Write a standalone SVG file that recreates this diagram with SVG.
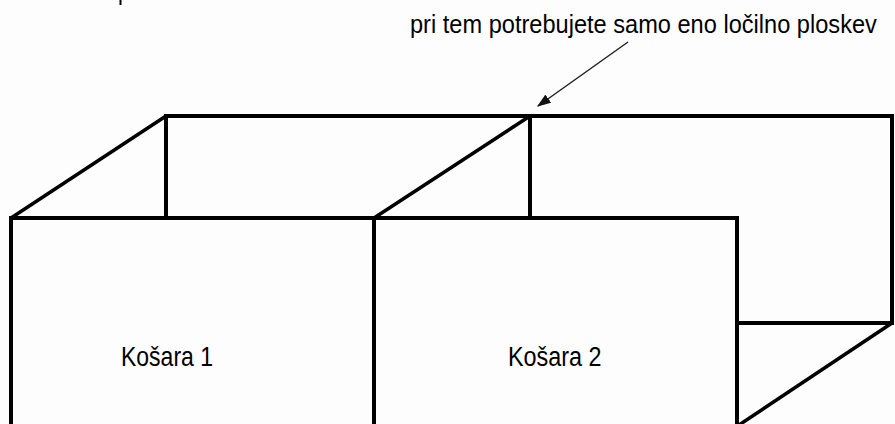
<svg xmlns="http://www.w3.org/2000/svg" width="895" height="424" viewBox="0 0 895 424">
<defs>
<style>
.edge{stroke:#000;stroke-width:4;fill:none;stroke-linecap:square;stroke-linejoin:miter}
.diag{stroke:#000;stroke-width:3.5;fill:none;stroke-linecap:round}
.lbl{font-family:"Liberation Sans",Arial,sans-serif;fill:#000}
</style>
<marker id="ah" viewBox="0 0 10 10" refX="9" refY="5" markerWidth="14" markerHeight="10" markerUnits="userSpaceOnUse" orient="auto" preserveAspectRatio="none">
<path d="M0,0 L10,5 L0,10 z" fill="#111"/>
</marker>
</defs>
<rect width="895" height="424" fill="#fdfdfd"/>
<line x1="120.5" y1="0" x2="120.5" y2="5" stroke="#000" stroke-width="2"/>
<g id="back">
<polyline class="edge" points="166,218 166,116 892,116 892,323 739,323"/>
<line class="edge" x1="530" y1="116" x2="530" y2="218"/>
</g>
<g id="kosara1">
<polyline class="edge" points="11,426 11,218 374,218 374,426"/>
<line class="diag" x1="11" y1="218" x2="166" y2="116"/>
<text class="lbl" transform="translate(121,366) scale(1,1.18)" font-size="23">Košara 1</text>
</g>
<g id="kosara2">
<polyline class="edge" points="374,218 737,218 737,426"/>
<line class="diag" x1="374" y1="218" x2="530" y2="116"/>
<text class="lbl" transform="translate(508,366) scale(1,1.18)" font-size="23.4">Košara 2</text>
</g>
<g id="fold">
<line class="diag" x1="739" y1="425" x2="892" y2="323"/>
</g>
<g id="note">
<text class="lbl" transform="translate(410,33) scale(1,1.12)" font-size="23.6">pri tem potrebujete samo eno ločilno ploskev</text>
</g>
<g id="connectors">
<line x1="628" y1="42" x2="538" y2="106" stroke="#222" stroke-width="1.5" marker-end="url(#ah)"/>
</g>
</svg>
